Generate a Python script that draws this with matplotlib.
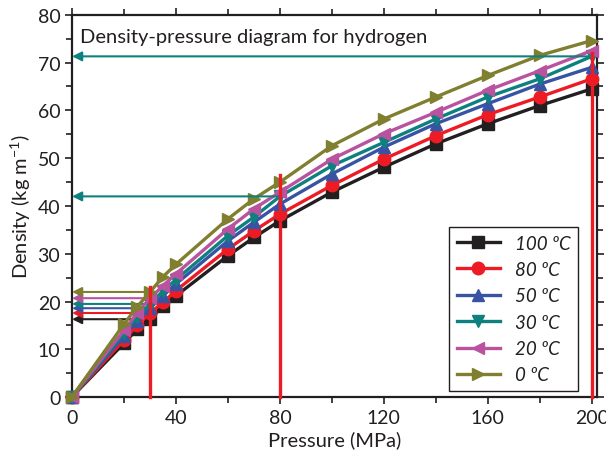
import matplotlib
matplotlib.use("Agg")
from matplotlib import pyplot as plt
from matplotlib.ticker import MultipleLocator

plt.rcParams['font.family'] = ['Lato', 'DejaVu Sans']

# pressure (MPa) and density (kg m^-1) per temperature
pressure = [0, 20, 25, 30, 35, 40, 60, 70, 80, 100, 120, 140, 160, 180, 200]
d_100 = [0.1, 11.3, 14.2, 16.3, 19.1, 21.2, 29.6, 33.4, 36.9, 42.9, 48.1, 53.0, 57.2, 61.0, 64.5]
d_80 = [0.1, 12.0, 15.0, 17.6, 19.8, 22.3, 31.0, 34.8, 38.3, 44.3, 49.8, 54.7, 59.1, 62.8, 66.6]
d_50 = [0.1, 12.8, 16.0, 18.6, 21.2, 23.7, 32.7, 36.6, 40.4, 46.7, 52.3, 57.2, 61.4, 65.5, 69.0]
d_30 = [0.1, 13.4, 16.7, 19.5, 22.2, 24.6, 33.8, 37.7, 42.0, 48.4, 53.3, 58.2, 62.8, 66.6, 71.3]
d_20 = [0.1, 14.0, 17.6, 20.7, 23.3, 25.8, 35.2, 39.4, 42.9, 49.8, 55.1, 59.6, 64.2, 68.3, 72.5]
d_0 = [0.1, 15.3, 18.9, 22.0, 25.2, 27.8, 37.3, 41.5, 45.0, 52.6, 58.2, 62.8, 67.3, 71.5, 74.6]

labels = ["100 ºC", "80 ºC", "50 ºC", "30 ºC", "20 ºC", "0 ºC"]
series = [d_100, d_80, d_50, d_30, d_20, d_0]
colors = ["#231f20", "#ed1c24", "#3953a4", "#0e8080", "#b9529f", "#7f7f2f"]
markers = ["s", "o", "^", "v", "<", ">"]

# reading lines: pressures and where the red markers stop
read_p = [30, 80, 200]
read_top = [23, 46.5, 72]

fig = plt.figure(figsize=(6.06, 4.64), dpi=100)
ax = fig.add_axes([0.119, 0.142, 0.866, 0.824])

for d, c, m, lab in zip(series, colors, markers, labels):
    ax.plot(pressure, d, color=c, marker=m, ms=9, lw=2.4, label=lab, clip_on=False, zorder=3)

# arrows from 30 MPa to the density axis for every temperature
i30 = pressure.index(30)
for d, c in zip(series, colors):
    ax.annotate("", xy=(0, d[i30]), xytext=(30, d[i30]),
                arrowprops=dict(arrowstyle="-|>", color=c, lw=1.5,
                                mutation_scale=14, shrinkA=0, shrinkB=0),
                zorder=2)

# 30 degC at 80 and 200 MPa
for p in [80, 200]:
    y = d_30[pressure.index(p)]
    ax.annotate("", xy=(0, y), xytext=(p, y),
                arrowprops=dict(arrowstyle="-|>", color=colors[3], lw=1.5,
                                mutation_scale=14, shrinkA=0, shrinkB=0),
                zorder=4)

for p, top in zip(read_p, read_top):
    ax.plot([p, p], [0, top], color="#ed1c24", lw=2.4, zorder=5, clip_on=False)

ax.set_xlim(0, 202)
ax.set_ylim(0, 80)
ax.xaxis.set_major_locator(MultipleLocator(40))
ax.xaxis.set_minor_locator(MultipleLocator(20))
ax.yaxis.set_major_locator(MultipleLocator(10))
ax.yaxis.set_minor_locator(MultipleLocator(5))
ax.tick_params(which="both", direction="out", top=True, right=True,
               labelsize=14, width=1.2, colors="#231f20", labelcolor="#231f20")
ax.tick_params(which="major", length=5)
ax.tick_params(which="minor", length=4)
for s in ax.spines.values():
    s.set_linewidth(1.6)
    s.set_color("#231f20")

ax.set_xlabel("Pressure (MPa)", fontsize=14.5, color="#231f20", labelpad=3)
ax.set_ylabel("Density (kg m$^{\\mathregular{-1}}$)", fontsize=14.5, color="#231f20", labelpad=3)

ax.text(3, 75.4, "Density-pressure diagram for hydrogen", fontsize=14.5,
        color="#231f20", va="center", ha="left")

leg = ax.legend(loc="lower right", bbox_to_anchor=(0.964, 0.016), fancybox=False,
                edgecolor="#231f20", framealpha=1, fontsize=13.5, handlelength=2.3,
                labelspacing=0.5, borderpad=0.4, borderaxespad=0)
leg.get_frame().set_linewidth(1.0)
for t in leg.get_texts():
    t.set_fontstyle("italic")
    t.set_color("#231f20")

fig.savefig("out.png", dpi=100)
